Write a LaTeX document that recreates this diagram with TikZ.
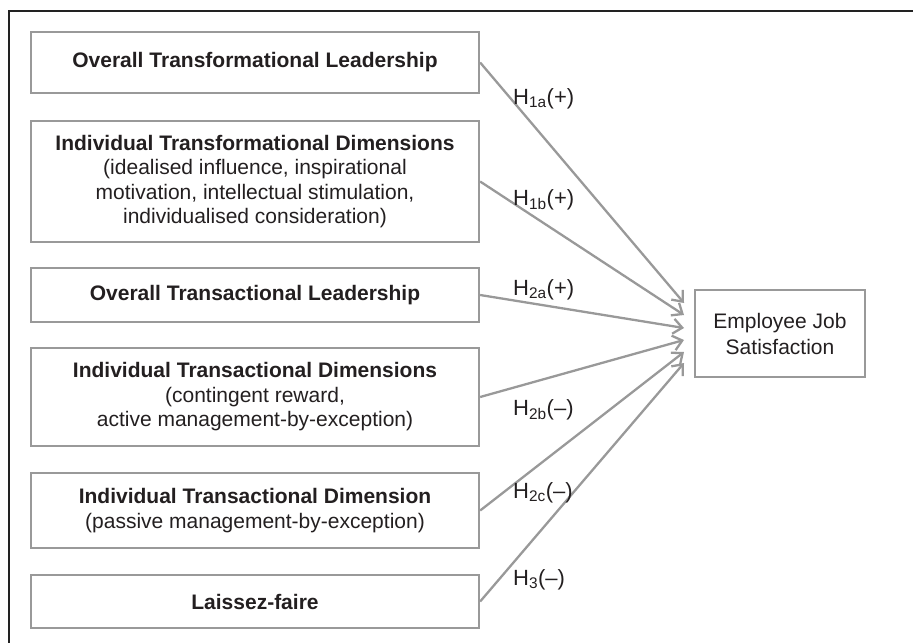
\documentclass[tikz,border=0pt]{standalone}
\usepackage{fontspec}
\setmainfont{Liberation Sans}
\usetikzlibrary{arrows.meta}
\definecolor{frm}{HTML}{222222}
\definecolor{gry}{HTML}{999999}
\definecolor{txt}{HTML}{231F20}
\begin{document}
\begin{tikzpicture}[x=1pt,y=-1pt,
  lbox/.style={draw=gry, line width=2.3pt, minimum width=448pt, align=center, text=txt,
    font=\fontsize{21}{24.5}\selectfont, inner sep=0pt},
  tbox/.style={draw=gry, line width=2.3pt, minimum width=170pt, minimum height=87pt, align=center, text=txt,
    font=\fontsize{21}{26}\selectfont, inner sep=0pt},
  arr/.style={draw=gry, line width=2.3pt, -{Straight Barb[length=9pt,width=15pt,line width=2.3pt]}},
  hlbl/.style={anchor=base west, text=txt, font=\fontsize{22}{26}\selectfont, inner sep=0pt}]
\useasboundingbox (0,0) rectangle (913,643);
\draw[frm, line width=2pt] (913,11) -- (9,11) -- (9,643);

\node[lbox, minimum height=61pt] (b1) at (255,62.5) {\textbf{Overall Transformational Leadership}};
\node[lbox, minimum height=121pt] (b2) at (255,181.5) {\textbf{Individual Transformational Dimensions}\\(idealised influence, inspirational\\motivation, intellectual stimulation,\\individualised consideration)};
\node[lbox, minimum height=54pt] (b3) at (255,295) {\textbf{Overall Transactional Leadership}};
\node[lbox, minimum height=98pt] (b4) at (255,397) {\textbf{Individual Transactional Dimensions}\\(contingent reward,\\active management-by-exception)};
\node[lbox, minimum height=75pt] (b5) at (255,510.5) {\textbf{Individual Transactional Dimension}\\(passive management-by-exception)};
\node[lbox, minimum height=53pt] (b6) at (255,601.5) {\textbf{Laissez-faire}};

\node[tbox] (t) at (780,333.5) {Employee Job\\Satisfaction};

\coordinate (e1) at (684,303);
\coordinate (e2) at (684,315);
\coordinate (e3) at (684,328);
\coordinate (e4) at (684,340);
\coordinate (e5) at (684,352);
\coordinate (e6) at (684,363);

\draw[arr] (b1.east) -- (e1);
\draw[arr] (b2.east) -- (e2);
\draw[arr] (b3.east) -- (e3);
\draw[arr] (b4.east) -- (e4);
\draw[arr] (b5.east) -- (e5);
\draw[arr] (b6.east) -- (e6);

\node[hlbl] (h1) at (513,104) {H\textsubscript{1a}(+)};
\node[hlbl] (h2) at (513,205) {H\textsubscript{1b}(+)};
\node[hlbl] (h3) at (513,295) {H\textsubscript{2a}(+)};
\node[hlbl] (h4) at (513,415) {H\textsubscript{2b}(–)};
\node[hlbl] (h5) at (513,498) {H\textsubscript{2c}(–)};
\node[hlbl] (h6) at (513,585) {H\textsubscript{3}(–)};
\end{tikzpicture}
\end{document}
